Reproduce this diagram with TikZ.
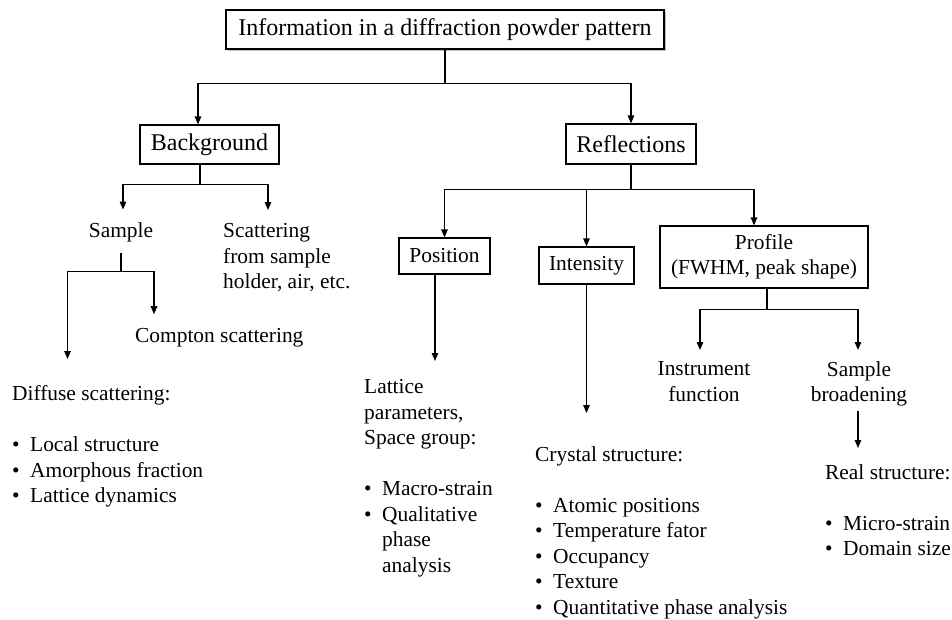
\documentclass[tikz,border=0pt]{standalone}
\usepackage{fontspec}
\setmainfont{Liberation Serif}
\usepackage{tikz}
\usetikzlibrary{positioning,arrows.meta,shadows}
\newcommand{\itm}{\makebox[18pt][l]{\textbullet}}
\newcommand{\itmskip}{\hspace*{18pt}}

\begin{document}
\begin{tikzpicture}[x=1pt,y=-1pt,
  box/.style={draw,line width=1.2pt,inner sep=0pt,align=center,fill=white,font=\fontsize{21.4}{25}\selectfont},
  bigbox/.style={box,font=\fontsize{24}{28}\selectfont},
  txt/.style={inner sep=0pt,align=left,font=\fontsize{21.4}{25.5}\selectfont},
  ctxt/.style={txt,align=center},
  conn/.style={line width=1.2pt},
  arr/.style={conn,-{Triangle[length=8pt,width=6.5pt]}}]
  \path[use as bounding box,fill=white] (0,0) rectangle (952,619);
  % boxes
  \node[bigbox,minimum width=438pt,minimum height=39pt,
    drop shadow={shadow xshift=2pt,shadow yshift=-2pt,opacity=.5}] (title) at (445,29.5) {Information in a diffraction powder pattern};
  \node[bigbox,minimum width=139pt,minimum height=39pt] (bg) at (209.5,144.5) {Background};
  \node[bigbox,minimum width=130pt,minimum height=40pt] (refl) at (631,144) {Reflections};
  \node[box,minimum width=91pt,minimum height=36pt] (pos) at (444.5,256) {Position};
  \node[box,minimum width=95pt,minimum height=37pt] (inten) at (586.5,265.5) {Intensity};
  \node[box,minimum width=208pt,minimum height=62pt] (prof) at (764,257) {Profile\\(FWHM, peak shape)};
  % plain text
  \node[txt,anchor=base] (sample) at (121,237) {Sample};
  \node[txt,anchor=north west] (scat) at (223,223.4) {Scattering\\from sample\\holder, air, etc.};
  \node[txt,anchor=base west] (compton) at (135,342) {Compton scattering};
  \node[txt,anchor=north west] (diffuse) at (12,385.4) {Diffuse scattering:\\[25.5pt]\itm Local structure\\\itm Amorphous fraction\\\itm Lattice dynamics};
  \node[txt,anchor=north west] (lattice) at (364,379.4) {Lattice\\parameters,\\Space group:\\[25.5pt]\itm Macro-strain\\\itm Qualitative\\\itmskip phase\\\itmskip analysis};
  \node[txt,anchor=north west] (crystal) at (535,446.4) {Crystal structure:\\[25.5pt]\itm Atomic positions\\\itm Temperature fator\\\itm Occupancy\\\itm Texture\\\itm Quantitative phase analysis};
  \node[ctxt,anchor=north] (instr) at (704,361.4) {Instrument\\function};
  \node[ctxt,anchor=north] (sbroad) at (859,361.4) {Sample\\broadening};
  \node[txt,anchor=north west] (real) at (825,464.4) {Real structure:\\[25.5pt]\itm Micro-strain\\\itm Domain size};
  % connectors
  \draw[arr] (title.south) -- ++(0,34) -| ([xshift=-11.5pt]bg.north);
  \draw[arr] (title.south) -- ++(0,34) -| (refl.north);
  \draw[conn] ([xshift=-9.5pt]bg.south) -- ++(0,20) coordinate (jbg);
  \draw[arr] (jbg) -| ([xshift=2pt,yshift=12.4pt]sample.north);
  \draw[arr] (jbg) -| ([xshift=45pt,yshift=13.4pt]scat.north west);
  \draw[conn] ([yshift=-11.4pt]sample.south) -- ++(0,18) coordinate (jsam);
  \draw[arr] (jsam) -| ([xshift=19pt,yshift=13.4pt]compton.north west);
  \draw[arr] (jsam) -| ([xshift=55.5pt,yshift=26.4pt]diffuse.north west);
  \draw[conn] (refl.south) -- ++(0,25) coordinate (jrefl);
  \draw[arr] (jrefl) -| (pos.north);
  \draw[arr] (jrefl) -| (inten.north);
  \draw[arr] (jrefl) -| ([xshift=-10pt]prof.north);
  \draw[arr] ([xshift=-9.5pt]pos.south) -- ([xshift=71pt,yshift=18.4pt]lattice.north west);
  \draw[arr] (inten.south) -- ([xshift=51.5pt,yshift=33.4pt]crystal.north west);
  \draw[conn] ([xshift=3pt]prof.south) -- ++(0,21) coordinate (jprof);
  \draw[arr] (jprof) -| ([xshift=-4pt,yshift=11.4pt]instr.north);
  \draw[arr] (jprof) -| ([xshift=-1pt,yshift=11.4pt]sbroad.north);
  \draw[arr] ([xshift=-1pt,yshift=-4pt]sbroad.south) -- ([xshift=33pt,yshift=16.4pt]real.north west);
\end{tikzpicture}
\end{document}
